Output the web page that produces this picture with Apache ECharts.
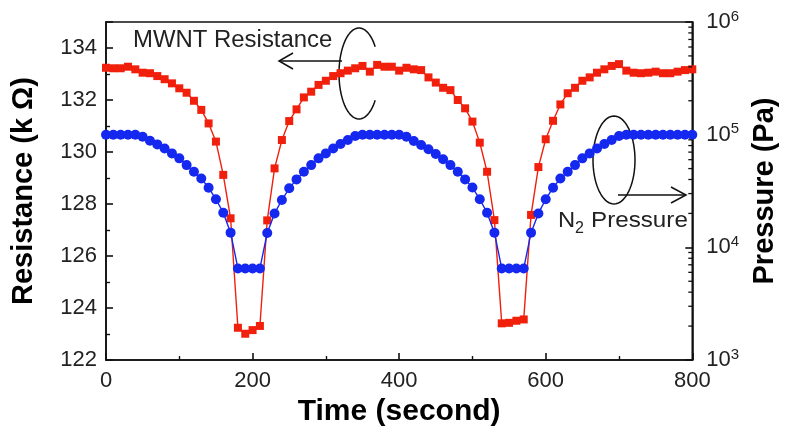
<!DOCTYPE html>
<html>
<head>
<meta charset="utf-8">
<script src="https://cdn.jsdelivr.net/npm/echarts@6/dist/echarts.min.js"></script>
<style>
  html, body { margin: 0; padding: 0; background: #fff; }
  #chart { width: 787px; height: 434px; }
</style>
</head>
<body>
<div id="chart"></div>
<script>
// Sampling times (s)
const timeSec = [
  0, 10, 20, 30, 40, 50, 60, 70, 80, 90,
  100, 110, 120, 130, 140, 150, 160, 170, 180, 190,
  200, 210, 220, 230, 240, 250, 260, 270, 280, 290,
  300, 310, 320, 330, 340, 350, 360, 370, 380, 390,
  400, 410, 420, 430, 440, 450, 460, 470, 480, 490,
  500, 510, 520, 530, 540, 550, 560, 570, 580, 590,
  600, 610, 620, 630, 640, 650, 660, 670, 680, 690,
  700, 710, 720, 730, 740, 750, 760, 770, 780, 790, 800
];

// MWNT resistance (kΩ), left axis
const resistanceK = [
  133.24, 133.22, 133.22, 133.28, 133.18, 133.05, 133.03, 132.92, 132.80, 132.64,
  132.45, 132.28, 131.97, 131.62, 131.10, 130.40, 129.12, 127.45, 123.24, 123.01,
  123.15, 123.31, 127.37, 129.37, 130.46, 131.19, 131.64, 132.10, 132.32, 132.58,
  132.74, 132.92, 133.03, 133.13, 133.22, 133.31, 133.09, 133.35, 133.28, 133.28,
  133.13, 133.24, 133.18, 133.15, 132.87, 132.67, 132.47, 132.38, 132.00, 131.68,
  131.17, 130.36, 129.24, 127.38, 123.41, 123.43, 123.51, 123.56, 127.58, 129.42,
  130.49, 131.20, 131.83, 132.26, 132.47, 132.74, 132.87, 133.05, 133.18, 133.31,
  133.38, 133.13, 133.05, 133.03, 133.05, 133.09, 133.03, 133.03, 133.09, 133.15, 133.18
];

// N2 pressure (Pa), right log axis
const pressurePa = [
  100000, 100000, 100000, 100000, 100000, 95700, 88300, 82000, 75500, 68200,
  61600, 53700, 46900, 40900, 33800, 26700, 20300, 13500, 6500, 6500,
  6500, 6500, 13400, 20000, 26300, 33400, 40100, 46900, 53700, 61600,
  68200, 75500, 82600, 89600, 97200, 100000, 100000, 100000, 100000, 100000,
  100000, 95700, 87700, 80900, 74100, 67300, 60400, 53700, 46900, 40100,
  34000, 26700, 20300, 13500, 6500, 6500, 6500, 6500, 13500, 20000,
  26700, 33800, 40900, 46900, 53700, 61600, 68200, 75500, 82600, 89600,
  97200, 100000, 100000, 100000, 100000, 100000, 100000, 100000, 100000, 100000, 100000
];

// Minor tick values of the logarithmic pressure axis
const logMinorTicks = [
  2000, 3000, 4000, 5000, 6000, 7000, 8000, 9000,
  20000, 30000, 40000, 50000, 60000, 70000, 80000, 90000,
  200000, 300000, 400000, 500000, 600000, 700000, 800000, 900000
];

const FONT = '"Liberation Sans", Arial, Helvetica, sans-serif';
const RED = '#f0200c';
const BLUE = '#1428f0';
const AXIS = '#111';

const resistanceData = timeSec.map((t, i) => [t, resistanceK[i]]);
const pressureData = timeSec.map((t, i) => [t, pressurePa[i]]);

// Points along an elliptical arc (angles in degrees, screen orientation)
function ellipseArc(cx, cy, rx, ry, fromDeg, toDeg) {
  const pts = [];
  const steps = 72;
  for (let k = 0; k <= steps; k++) {
    const a = (fromDeg + (toDeg - fromDeg) * k / steps) * Math.PI / 180;
    pts.push([cx + rx * Math.cos(a), cy + ry * Math.sin(a)]);
  }
  return pts;
}

const chart = echarts.init(document.getElementById('chart'), null, { renderer: 'canvas' });

const axisLineStyle = { color: AXIS, width: 1.6 };
const annot = { stroke: '#111', lineWidth: 1.5, fill: null };

chart.setOption({
  animation: false,
  backgroundColor: '#fff',
  textStyle: { fontFamily: FONT },
  grid: {
    left: 106, right: 90, top: 22, bottom: 74,
    show: true, borderColor: AXIS, borderWidth: 1.6, backgroundColor: 'transparent'
  },
  xAxis: {
    type: 'value', min: 0, max: 800, interval: 200,
    axisLine: { show: true, onZero: false, lineStyle: axisLineStyle },
    axisTick: { show: true, inside: true, length: 7, lineStyle: axisLineStyle },
    minorTick: { show: true, splitNumber: 2, length: 4, lineStyle: { color: AXIS, width: 1.4 } },
    splitLine: { show: false },
    axisLabel: { fontSize: 22, color: '#222', margin: 10, fontFamily: FONT },
    name: 'Time (second)', nameLocation: 'middle', nameGap: 37,
    nameTextStyle: { fontSize: 30, fontWeight: 'bold', color: '#000', fontFamily: FONT }
  },
  yAxis: [
    {
      type: 'value', min: 122, max: 135, interval: 2, position: 'left',
      axisLine: { show: true, onZero: false, lineStyle: axisLineStyle },
      axisTick: { show: true, inside: true, length: 7, lineStyle: axisLineStyle },
      minorTick: { show: true, splitNumber: 2, length: 4, lineStyle: { color: AXIS, width: 1.4 } },
      splitLine: { show: false },
      axisLabel: { fontSize: 22, color: '#222', margin: 9, showMaxLabel: false, fontFamily: FONT },
      name: 'Resistance (k Ω)', nameLocation: 'middle', nameRotate: 90, nameGap: 68,
      nameTextStyle: { fontSize: 29, fontWeight: 'bold', color: '#000', fontFamily: FONT }
    },
    {
      type: 'log', logBase: 10, min: 1000, max: 1000000, position: 'right',
      axisLine: { show: true, onZero: false, lineStyle: axisLineStyle },
      axisTick: { show: true, inside: true, length: 7, lineStyle: axisLineStyle },
      splitLine: { show: false },
      axisLabel: {
        margin: 14,
        formatter: v => '{b|10}{s|' + Math.round(Math.log10(v)) + '}',
        rich: {
          b: { fontSize: 22, color: '#222', fontFamily: FONT, lineHeight: 26 },
          s: { fontSize: 15, color: '#222', fontFamily: FONT, lineHeight: 15, verticalAlign: 'top' }
        }
      },
      name: 'Pressure (Pa)', nameLocation: 'middle', nameRotate: 90, nameGap: 57,
      nameTextStyle: { fontSize: 29, fontWeight: 'bold', color: '#000', fontFamily: FONT }
    }
  ],
  series: [
    {
      name: 'MWNT Resistance', type: 'line', xAxisIndex: 0, yAxisIndex: 0,
      data: resistanceData,
      symbol: 'rect', symbolSize: 8, showAllSymbol: true,
      lineStyle: { color: RED, width: 1.4 },
      itemStyle: { color: RED },
      z: 3
    },
    {
      name: 'N2 Pressure', type: 'line', xAxisIndex: 0, yAxisIndex: 1,
      data: pressureData,
      symbol: 'circle', symbolSize: 10, showAllSymbol: true,
      lineStyle: { color: BLUE, width: 1.4 },
      itemStyle: { color: BLUE },
      z: 4
    },
    {
      // short inward ticks at 2..9 × 10^n on the log axis
      type: 'custom', xAxisIndex: 0, yAxisIndex: 1, silent: true, clip: false,
      data: logMinorTicks.map(v => [800, v]),
      renderItem: (params, api) => {
        const p = api.coord([api.value(0), api.value(1)]);
        return {
          type: 'line',
          shape: { x1: p[0] - 4, y1: p[1], x2: p[0], y2: p[1] },
          style: { stroke: AXIS, lineWidth: 1.3 }
        };
      },
      z: 5
    }
  ],
  graphic: [
    {
      type: 'text', x: 133, y: 29, scaleX: 1.04,
      style: { text: 'MWNT Resistance', font: '23px ' + FONT, fill: '#222' }
    },
    { type: 'line', shape: { x1: 342, y1: 61, x2: 279, y2: 61 }, style: annot },
    { type: 'polyline', shape: { points: [[293, 53], [279, 61], [293, 69]] }, style: annot },
    { type: 'polyline', shape: { points: ellipseArc(359, 73.5, 20, 45.5, -36, -324) }, style: annot },
    { type: 'polyline', shape: { points: ellipseArc(614, 160, 21, 44, 0, 360) }, style: annot },
    { type: 'line', shape: { x1: 618, y1: 195, x2: 686, y2: 195 }, style: annot },
    { type: 'polyline', shape: { points: [[671, 187], [686, 195], [671, 203]] }, style: annot },
    { type: 'text', x: 558, y: 210, scaleX: 1.08, style: { text: 'N', font: '22px ' + FONT, fill: '#222' } },
    { type: 'text', x: 575, y: 221, style: { text: '2', font: '16px ' + FONT, fill: '#222' } },
    { type: 'text', x: 591, y: 210, scaleX: 1.1, style: { text: 'Pressure', font: '22px ' + FONT, fill: '#222' } }
  ]
});
</script>
</body>
</html>
